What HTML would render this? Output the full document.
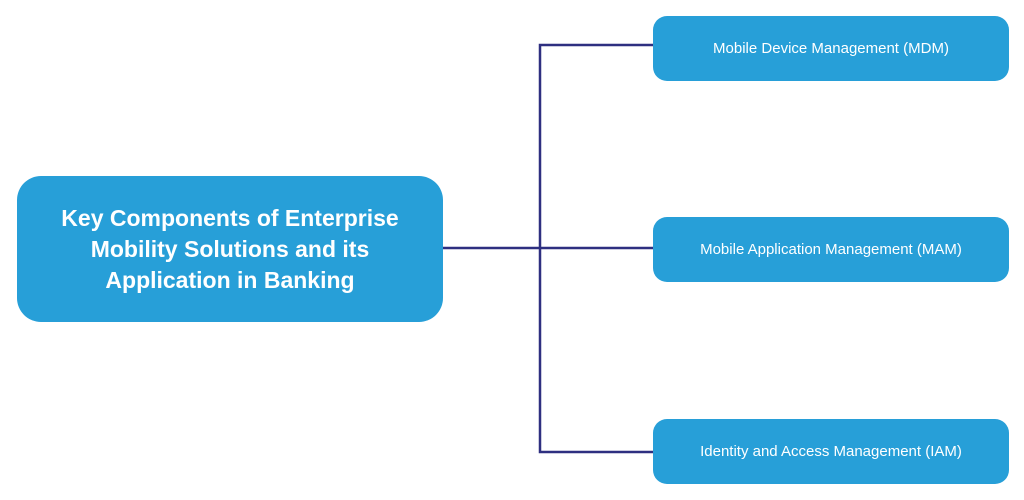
<!DOCTYPE html>
<html><head><style>
body{margin:0;width:1024px;height:500px;background:#fff;position:relative;overflow:hidden;font-family:"Liberation Sans",sans-serif}
.b{position:absolute;background:#279fd8;color:#fff;display:flex;align-items:center;justify-content:center;text-align:center}
.s{left:653px;width:356px;height:65px;border-radius:14px;font-size:15px}
</style></head><body>
<svg width="1024" height="500" style="position:absolute;left:0;top:0">
<g stroke="#2e2f80" stroke-width="2.5" fill="none">
<polyline points="653,45 540,45 540,452 653,452"/>
<line x1="440" y1="248" x2="653" y2="248"/>
</g></svg>
<div class="b" style="left:17px;top:176px;width:426px;height:146px;border-radius:24px;font-size:23px;font-weight:bold;line-height:31px">Key Components of Enterprise<br>Mobility Solutions and its<br>Application in Banking</div>
<div class="b s" style="top:16px">Mobile Device Management (MDM)</div>
<div class="b s" style="top:217px">Mobile Application Management (MAM)</div>
<div class="b s" style="top:419px">Identity and Access Management (IAM)</div>
</body></html>
